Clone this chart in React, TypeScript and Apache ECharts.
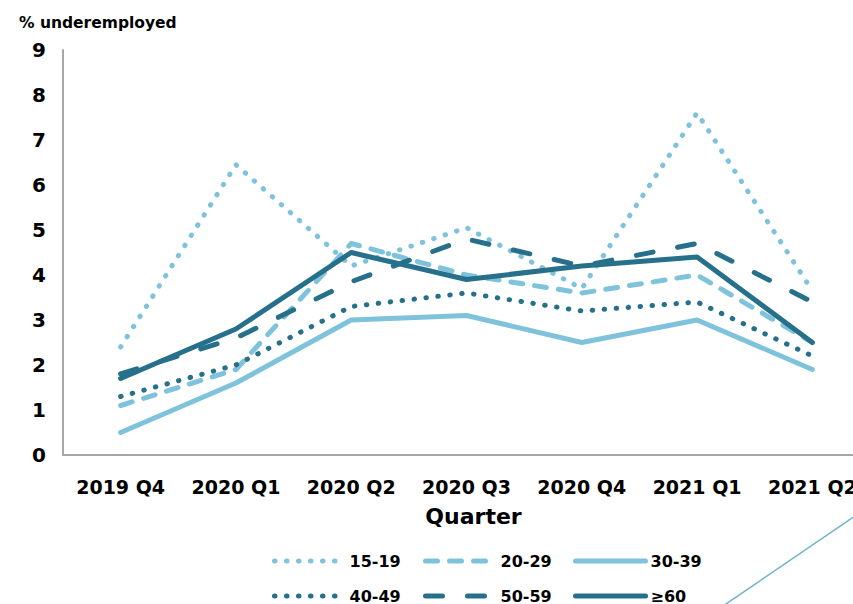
import React, { useEffect, useRef } from "react";
import * as echarts from "echarts";

const categories = ["2019 Q4", "2020 Q1", "2020 Q2", "2020 Q3", "2020 Q4", "2021 Q1", "2021 Q2"];
const s15_19 = [2.4, 6.45, 4.2, 5.05, 3.7, 7.6, 3.65];
const s20_29 = [1.1, 1.9, 4.7, 4.0, 3.6, 4.0, 2.5];
const s30_39 = [0.5, 1.6, 3.0, 3.1, 2.5, 3.0, 1.9];
const s40_49 = [1.3, 2.0, 3.3, 3.6, 3.2, 3.4, 2.2];
const s50_59 = [1.8, 2.6, 3.85, 4.8, 4.2, 4.7, 3.4];
const s60 = [1.7, 2.8, 4.5, 3.9, 4.2, 4.4, 2.5];
const yTicks = [0, 1, 2, 3, 4, 5, 6, 7, 8, 9];

const LIGHT = "#7fc2dc";
const DARK = "#27708b";
const FONT = "DejaVu Sans";

export default function App() {
  const ref = useRef<HTMLDivElement>(null);
  useEffect(() => {
    const chart = echarts.init(ref.current!, null, { renderer: "svg" });
    const defs = [
      { name: "15-19", data: s15_19, color: LIGHT, type: [0.5, 11.5], left: 272, top: 553 },
      { name: "20-29", data: s20_29, color: LIGHT, type: [12, 12], left: 423, top: 553 },
      { name: "30-39", data: s30_39, color: LIGHT, type: "solid", left: 573, top: 553 },
      { name: "40-49", data: s40_49, color: DARK, type: [0.5, 11.5], left: 272, top: 588 },
      { name: "50-59", data: s50_59, color: DARK, type: [17, 25], left: 423, top: 588 },
      { name: "≥60", data: s60, color: DARK, type: "solid", left: 573, top: 588 },
    ];
    chart.setOption({
      animation: false,
      textStyle: { fontFamily: FONT },
      grid: { left: 63, top: 50, width: 807, height: 405, containLabel: false, outerBoundsMode: "none" },
      title: {
        text: "% underemployed",
        left: 14,
        top: 10,
        textStyle: { fontFamily: FONT, fontSize: 15.5, fontWeight: "bold", color: "#000" },
      },
      legend: defs.map((d) => ({
        data: [d.name],
        left: d.left,
        top: d.top,
        itemWidth: 70,
        itemHeight: 14,
        padding: 0,
        itemStyle: { opacity: 0 },
        lineStyle: { color: d.color, width: 5, type: d.type, cap: "round" },
        textStyle: { fontFamily: FONT, fontSize: 16, fontWeight: "bold", color: "#000", padding: [0, 0, 0, 0] },
      })),
      xAxis: {
        type: "category",
        data: categories,
        boundaryGap: true,
        name: "Quarter",
        nameLocation: "middle",
        nameGap: 50,
        nameTextStyle: { fontFamily: FONT, fontSize: 22, fontWeight: "bold", color: "#000", padding: [0, 0, 0, 14] },
        axisLine: { lineStyle: { color: "#a6a6a6", width: 2 } },
        axisTick: { show: false },
        axisLabel: { fontFamily: FONT, fontSize: 19, fontWeight: "bold", color: "#000", margin: 22, interval: 0 },
      },
      yAxis: {
        type: "value",
        min: yTicks[0],
        max: yTicks[yTicks.length - 1],
        interval: 1,
        axisLine: { show: true, lineStyle: { color: "#a6a6a6", width: 2 } },
        axisTick: { show: false },
        splitLine: { show: false },
        axisLabel: { fontFamily: FONT, fontSize: 20, fontWeight: "bold", color: "#000", margin: 17 },
      },
      graphic: [
        {
          type: "line",
          shape: { x1: 723, y1: 606, x2: 858, y2: 514 },
          style: { stroke: "#6db2cf", lineWidth: 1.5 },
        },
      ],
      series: defs.map((d) => ({
        name: d.name,
        type: "line",
        data: d.data,
        symbol: "none",
        lineStyle: { color: d.color, width: 5, type: d.type, cap: "round", join: "round" },
        itemStyle: { color: d.color },
      })),
    });
    return () => chart.dispose();
  }, []);
  return <div ref={ref} style={{ position: "absolute", left: 0, top: 0, width: 853, height: 604 }} />;
}
